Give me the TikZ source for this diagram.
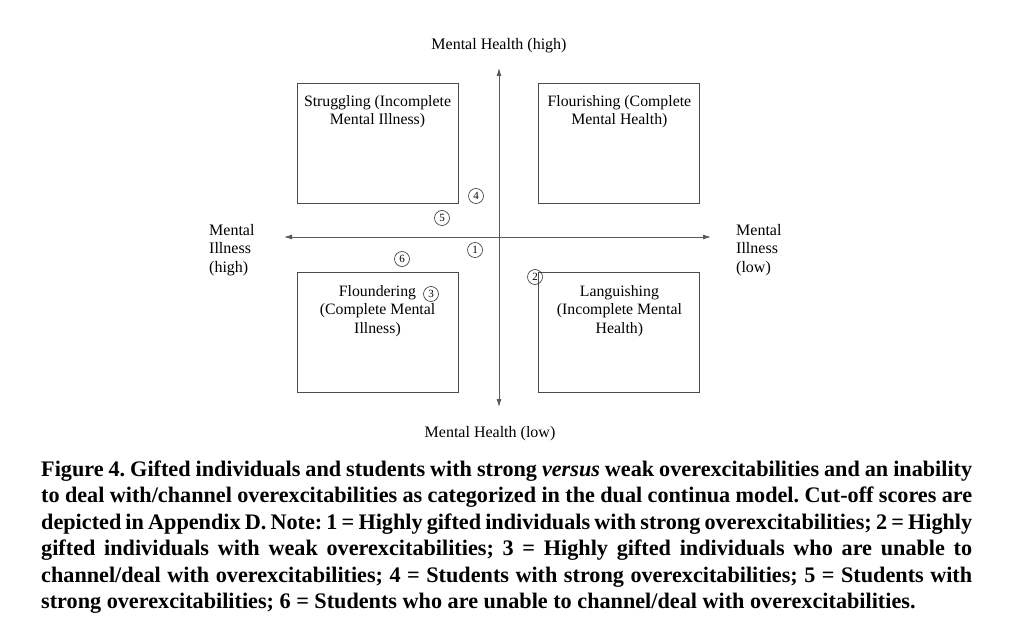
\documentclass[tikz,border=0pt]{standalone}
\usepackage{fontspec}
\setmainfont{Liberation Serif}
\usetikzlibrary{positioning,arrows.meta}

\begin{document}
\begin{tikzpicture}[x=1pt,y=-1pt,
  node distance=80pt,
  quadrant/.style={draw=black!70,line width=0.9pt,minimum width=161pt,minimum height=120pt,inner sep=0pt},
  boxtext/.style={align=center,inner sep=0pt,font=\fontsize{15.8}{18.5}\selectfont},
  axislabel/.style={align=left,inner sep=0pt,font=\fontsize{16}{18.5}\selectfont},
  axis/.style={draw=black!65,line width=0.9pt,{Latex[length=8pt,width=5pt]}-{Latex[length=8pt,width=5pt]}},
  num/.style={circle,draw=black!80,line width=0.6pt,inner sep=0pt,minimum size=15pt,font=\fontsize{11}{11}\selectfont},
  caption/.style={text width=931pt,align=justify,inner sep=0pt,font=\bfseries\fontsize{22.2}{26.5}\selectfont},
]
\useasboundingbox (0,0) rectangle (1028,631);
% the four quadrants of the dual continua model
\node[quadrant] (struggling) at (377.5,143) {};
\node[quadrant,right=of struggling] (flourishing) {};
\node[quadrant,below=69pt of struggling] (floundering) {};
\node[quadrant,right=of floundering] (languishing) {};
\node[boxtext,below=12.5pt of struggling.north] (strugglingtxt) {Struggling (Incomplete\\Mental Illness)};
\node[boxtext,below=12.5pt of flourishing.north] (flourishingtxt) {Flourishing (Complete\\Mental Health)};
\node[boxtext,below=12.5pt of floundering.north] (flounderingtxt) {Floundering\\(Complete Mental\\Illness)};
\node[boxtext,below=12.5pt of languishing.north] (languishingtxt) {Languishing\\(Incomplete Mental\\Health)};
% axes
\coordinate (mhtop) at (499,68);
\coordinate (mhbot) at (499,407);
\coordinate (mileft) at (284,237);
\coordinate (miright) at (711,237);
\draw[axis] (mhbot) -- (mhtop);
\draw[axis] (mileft) -- (miright);
\node[axislabel,above=15pt of mhtop] (mhhigh) {Mental Health (high)};
\node[axislabel] (mhlow) at (490,434) {Mental Health (low)};
\node[axislabel,anchor=west] (mihigh) at (209,250) {Mental\\Illness\\(high)};
\node[axislabel,anchor=west] (milow) at (736,250) {Mental\\Illness\\(low)};
% groups 1--6
\node[num] (g1) at (475,250) {1};
\node[num] (g2) at (535,277) {2};
\node[num] (g3) at (431,294) {3};
\node[num] (g4) at (476,196) {4};
\node[num] (g5) at (442,218) {5};
\node[num] (g6) at (402,259) {6};
% caption
\node[caption,anchor=north west] (cap) at (41,460.5) {\frenchspacing\hyphenpenalty=10000\exhyphenpenalty=10000
Figure 4. Gifted individuals and students with strong \textit{versus} weak overexcitabilities and an inability\linebreak
to deal with/channel overexcitabilities as categorized in the dual continua model. Cut-off scores are\linebreak
depicted in Appendix D. Note: 1 = Highly gifted individuals with strong overexcitabilities; 2 = Highly\linebreak
gifted individuals with weak overexcitabilities; 3 = Highly gifted individuals who are unable to\linebreak
channel/deal with overexcitabilities; 4 = Students with strong overexcitabilities; 5 = Students with\linebreak
strong overexcitabilities; 6 = Students who are unable to channel/deal with overexcitabilities.};
\end{tikzpicture}
\end{document}
